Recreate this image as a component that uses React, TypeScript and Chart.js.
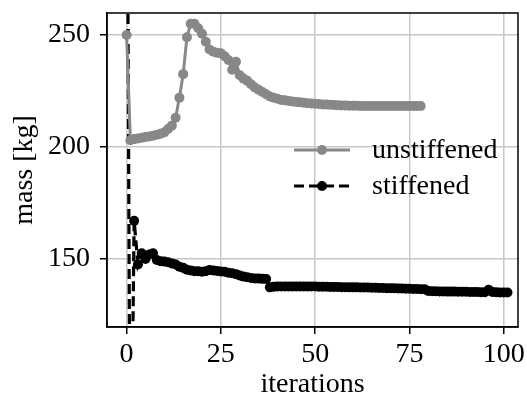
import React, { useEffect, useRef } from 'react';
import { Chart, registerables } from 'chart.js';

Chart.register(...registerables);

// unstiffened mass per iteration (iterations 0..78)
const unstiffened = [
  250, 203, 203.5, 203.8, 204.1, 204.4, 204.7, 205.0, 205.4, 205.9,
  206.5, 208, 209.5, 213, 222, 232.5, 249, 255, 255, 253,
  250.5, 247, 243.5, 242.5, 242, 241.8, 240.5, 238.8, 234.5, 238,
  232, 230.5, 229.5, 228, 226.5, 225.5, 224.5, 223.5, 222.5, 222,
  221.5, 221, 220.8, 220.5, 220.3, 220.1, 219.9, 219.7, 219.5, 219.4,
  219.3, 219.2, 219, 218.9, 218.8, 218.7, 218.6, 218.5, 218.5, 218.4,
  218.4, 218.4, 218.3, 218.3, 218.3, 218.3, 218.3, 218.3, 218.3, 218.3,
  218.3, 218.3, 218.3, 218.3, 218.3, 218.3, 218.3, 218.3, 218.3,
];

// stiffened mass per iteration (iterations 0..101)
const stiffened = [
  400, 20, 167, 147.5, 152.5, 150, 152, 152.5, 149.5, 149,
  148.8, 148.5, 148, 147.5, 146.5, 146, 145.2, 144.8, 144.5, 144.5,
  144.3, 144.5, 145, 144.8, 144.6, 144.4, 144.3, 143.8, 143.6, 143.2,
  142.6, 142.1, 141.8, 141.5, 141.3, 141.2, 141.1, 141, 137.3, 137.6,
  137.7, 137.7, 137.7, 137.7, 137.7, 137.7, 137.7, 137.7, 137.7, 137.7,
  137.7, 137.6, 137.6, 137.6, 137.5, 137.5, 137.5, 137.4, 137.4, 137.3,
  137.3, 137.3, 137.2, 137.2, 137.2, 137.1, 137.1, 137.0, 137.0, 136.9,
  136.9, 136.9, 136.8, 136.8, 136.7, 136.7, 136.6, 136.6, 136.5, 136.5,
  135.7, 135.6, 135.6, 135.5, 135.5, 135.4, 135.4, 135.4, 135.3, 135.3,
  135.3, 135.2, 135.2, 135.2, 135.1, 135.1, 136.2, 135.2, 135.1, 135.0,
  135.0, 135.0,
];

const xTickValues = [0, 25, 50, 75, 100];
const yTickValues = [150, 200, 250];
const xLimits = [-5.2, 103.8];
const yLimits = [119.6, 259.8];
const seriesNames = ['unstiffened', 'stiffened'];
const axisTitles = { x: 'iterations', y: 'mass [kg]' };

const FONT = "'Liberation Serif', 'Times New Roman', serif";
const GREY = '#888888';
const GRID = '#c8c8c8';

export default function App() {
  const ref = useRef<HTMLCanvasElement>(null);

  useEffect(() => {
    const canvas = ref.current;
    if (!canvas) return;

    const framePlugin = {
      id: 'frame',
      afterDatasetsDraw(chart: any) {
        const { ctx, chartArea: a } = chart;
        ctx.save();
        ctx.strokeStyle = '#000';
        ctx.lineWidth = 1.5;
        ctx.strokeRect(a.left, a.top, a.right - a.left, a.bottom - a.top);
        ctx.restore();
      },
    };

    const legendPlugin = {
      id: 'mplLegend',
      afterDraw(chart: any) {
        const { ctx, chartArea: a } = chart;
        const x0 = a.left + 187;
        const x1 = a.left + 243;
        const xm = (x0 + x1) / 2;
        const tx = a.left + 265;
        const rows = [a.top + 137, a.top + 173];
        ctx.save();
        chart.data.datasets.forEach((ds: any, i: number) => {
          const y = rows[i];
          ctx.strokeStyle = ds.borderColor;
          ctx.lineWidth = ds.borderWidth;
          ctx.setLineDash(ds.borderDash || []);
          ctx.beginPath();
          ctx.moveTo(x0, y);
          ctx.lineTo(x1, y);
          ctx.stroke();
          ctx.setLineDash([]);
          ctx.fillStyle = ds.pointBackgroundColor;
          ctx.beginPath();
          ctx.arc(xm, y, ds.pointRadius, 0, Math.PI * 2);
          ctx.fill();
          ctx.fillStyle = '#000';
          ctx.font = `28px ${FONT}`;
          ctx.textBaseline = 'middle';
          ctx.textAlign = 'left';
          ctx.fillText(seriesNames[i], tx, y + 1);
        });
        ctx.restore();
      },
    };

    const tickFont = { family: FONT, size: 28 };

    const chart = new Chart(canvas, {
      type: 'line',
      data: {
        datasets: [
          {
            label: seriesNames[0],
            data: unstiffened.map((y, i) => ({ x: i, y })),
            borderColor: GREY,
            backgroundColor: GREY,
            pointBackgroundColor: GREY,
            borderWidth: 3,
            pointRadius: 5,
            pointBorderWidth: 0,
            tension: 0,
          },
          {
            label: seriesNames[1],
            data: stiffened.map((y, i) => ({ x: i, y })),
            borderColor: '#000',
            backgroundColor: '#000',
            pointBackgroundColor: '#000',
            borderWidth: 3.2,
            borderDash: [10, 5],
            pointRadius: 5,
            pointBorderWidth: 0,
            tension: 0,
          },
        ],
      },
      options: {
        responsive: false,
        animation: false,
        devicePixelRatio: 1,
        layout: { padding: { left: 0, top: 13, right: 9, bottom: 0 } },
        plugins: { legend: { display: false }, tooltip: { enabled: false } },
        scales: {
          x: {
            type: 'linear',
            min: xLimits[0],
            max: xLimits[1],
            afterBuildTicks: (s: any) => {
              s.ticks = xTickValues.map((v) => ({ value: v }));
            },
            afterFit: (s: any) => {
              s.height = 71;
              s.paddingLeft = 0;
              s.paddingRight = 0;
            },
            grid: { color: GRID, lineWidth: 1.5, tickLength: 7, tickColor: '#000', tickWidth: 1.5 },
            border: { display: true, color: '#000', width: 1.5 },
            ticks: { font: tickFont, color: '#000', padding: 4, maxRotation: 0, autoSkip: false },
            title: {
              display: true,
              text: axisTitles.x,
              font: tickFont,
              color: '#000',
              padding: { top: 0, bottom: -3 },
            },
          },
          y: {
            type: 'linear',
            min: yLimits[0],
            max: yLimits[1],
            afterBuildTicks: (s: any) => {
              s.ticks = yTickValues.map((v) => ({ value: v }));
            },
            afterFit: (s: any) => {
              s.width = 107;
              s.paddingTop = 0;
              s.paddingBottom = 0;
            },
            grid: { color: GRID, lineWidth: 1.5, tickLength: 7, tickColor: '#000', tickWidth: 1.5 },
            border: { display: true, color: '#000', width: 1.5 },
            ticks: { font: tickFont, color: '#000', padding: 10, autoSkip: false },
            title: {
              display: true,
              text: axisTitles.y,
              font: tickFont,
              color: '#000',
              padding: { top: 8, bottom: 0 },
            },
          },
        },
      },
      plugins: [framePlugin, legendPlugin],
    });

    return () => chart.destroy();
  }, []);

  return (
    <div style={{ position: 'fixed', left: 0, top: 0, width: 527, height: 398, background: '#fff' }}>
      <canvas ref={ref} width={527} height={398} style={{ display: 'block' }} />
    </div>
  );
}
